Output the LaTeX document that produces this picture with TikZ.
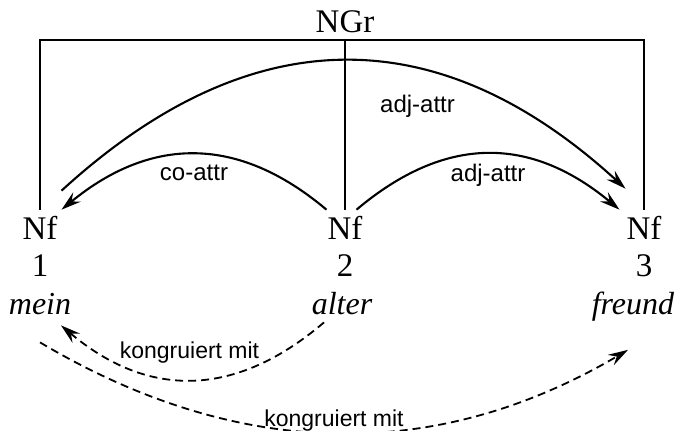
\documentclass[tikz,border=0pt]{standalone}
\usepackage{fontspec}
\setmainfont{Liberation Serif}
\newfontfamily\lblfont{Liberation Sans}
\usepackage{tikz}
\usetikzlibrary{arrows.meta, positioning, calc}

\begin{document}
\begin{tikzpicture}[
  x=0.5pt, y=-0.5pt,
  cat/.style={anchor=base, font=\fontsize{16.5}{18}\selectfont},
  word/.style={anchor=base, font=\fontsize{16}{18}\selectfont\itshape},
  lbl/.style={font=\lblfont\fontsize{12}{14}\selectfont},
  small/.style={font=\lblfont\fontsize{11.5}{14}\selectfont},
  rel/.style={-{Stealth[length=10pt, width=6pt, inset=3.5pt]}, line width=1.05pt},
  agr/.style={-{Stealth[length=10pt, width=6pt, inset=3.5pt]}, line width=0.9pt,
              dash pattern=on 4pt off 2.5pt}
]
  \useasboundingbox (0,0) rectangle (685,431);

  % categories
  \node[cat] (ngr) at (345,33)  {NGr};
  \node[cat] (nf1) at (40,240)  {Nf};
  \node[cat] (nf2) at (345,240) {Nf};
  \node[cat] (nf3) at (644,240) {Nf};

  % positions and words
  \node[cat]  (n1) at (40,277)  {1};
  \node[cat]  (n2) at (345,277) {2};
  \node[cat]  (n3) at (644,277) {3};
  \node[word] (w1) at (40,315)  {mein};
  \node[word] (w2) at (342,315) {alter};
  \node[word] (w3) at (633,315) {freund};

  % constituent bracket
  \draw[line width=1.05pt] (nf1.north) |- (ngr.south) -| (nf3.north);
  \draw[line width=1.05pt] (ngr.south) -- (nf2.north);

  % dependencies
  \draw[rel] ([xshift=-1.5pt, yshift=9.5pt]nf1.north east)
    .. controls +(189,-173) and +(-187,-171) ..
    node[lbl, pos=0.63, below=9pt] {adj-attr}
    ([xshift=3pt, yshift=10.5pt]nf3.north west);
  \draw[rel] ([xshift=3pt]nf2.north west)
    .. controls +(-89,-75) and +(89,-73) ..
    node[lbl, midway, below=1.5pt] {co-attr}
    ([xshift=-1.5pt]nf1.north east);
  \draw[rel] ([xshift=-6.5pt]nf2.north east)
    .. controls +(89,-75) and +(-89,-74) ..
    node[lbl, midway, below=1.5pt] {adj-attr}
    (nf3.north west);

  % agreement
  \draw[agr] ([xshift=-9pt]w2.south)
    .. controls +(-88,75) and +(88,74) ..
    node[small, midway, above=4.5pt, xshift=-1.5pt] {kongruiert mit}
    ([xshift=10.5pt, yshift=-1.5pt]w1.south);
  \draw[agr] ([yshift=-10pt]w1.south)
    .. controls +(195,116) and +(-195,115) ..
    node[small, midway, above=-3pt] {kongruiert mit}
    ([xshift=-2.5pt, yshift=-10.5pt]w3.south);
\end{tikzpicture}
\end{document}
